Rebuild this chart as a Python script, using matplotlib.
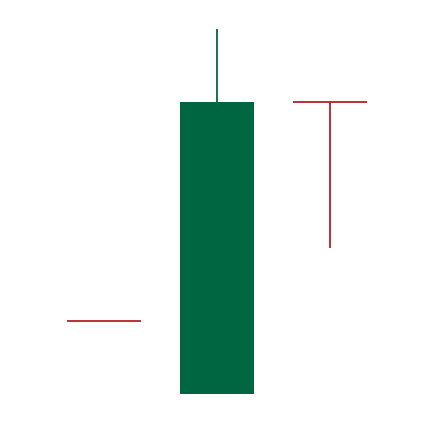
import matplotlib
matplotlib.use("Agg")
import matplotlib.pyplot as plt

# OHLC data
opens = [120, 100, 180]
highs = [120, 200, 180]
lows = [120, 100, 140]
closes = [120, 180, 180]

up_color = "#006641"
down_color = "#B5202A"

fig = plt.figure(figsize=(4.34, 4.22), dpi=100)
ax = fig.add_axes([0, 0, 1, 1])
x = list(range(len(opens)))
width = 0.66
for i, o, h, l, c in zip(x, opens, highs, lows, closes):
    col = up_color if c > o else down_color
    ax.vlines(i, l, h, color=col, linewidth=1.3, zorder=1)
    if c != o:
        ax.bar(i, c - o, bottom=o, width=width, color=col, zorder=2)
    else:
        ax.hlines(o, i - width / 2, i + width / 2, color=col, linewidth=1.3, zorder=2)

ax.set_xlim(-0.92, 2.92)
ax.set_ylim(92.33, 207.95)
ax.axis("off")
fig.savefig("out.png", dpi=100)
